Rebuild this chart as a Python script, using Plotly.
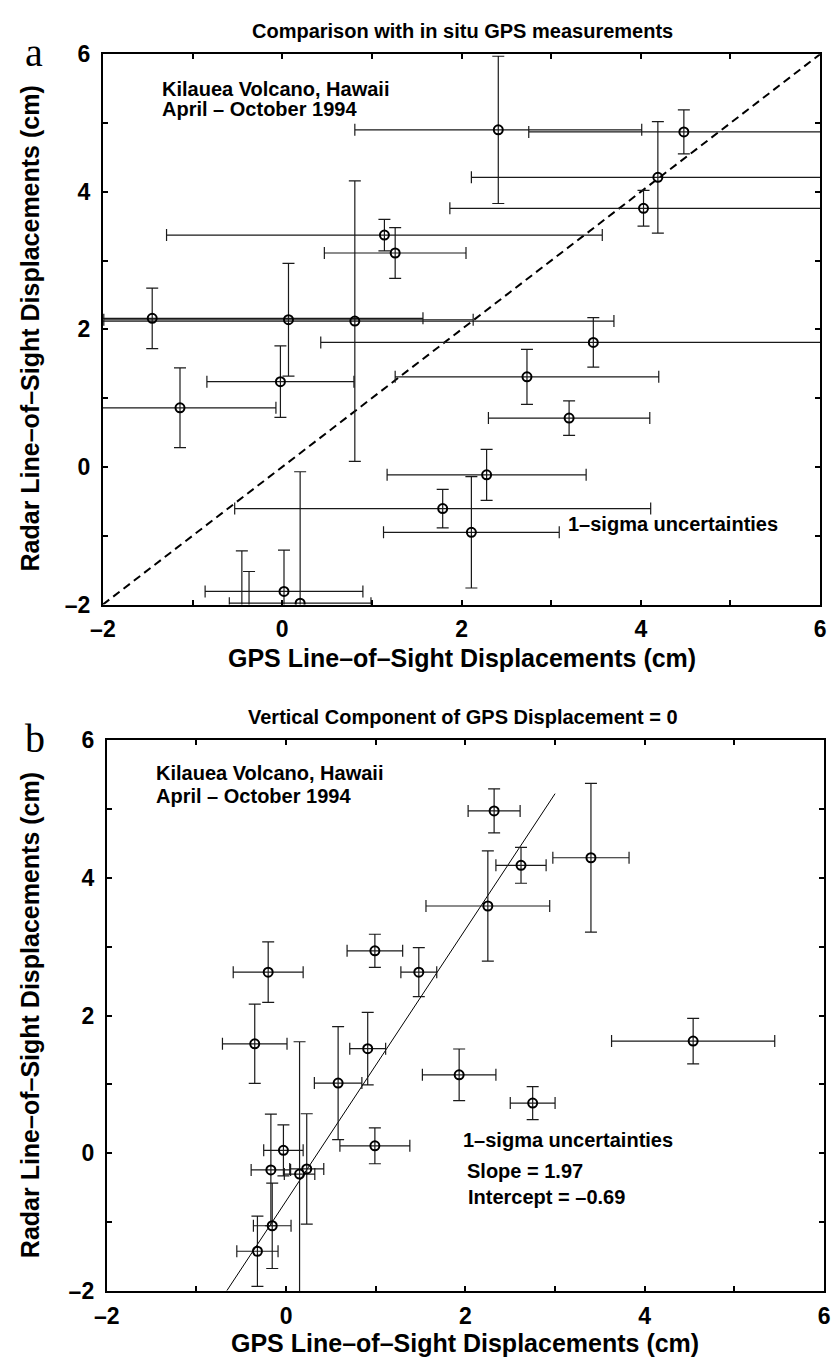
import plotly.graph_objects as go

# ---------------- Panel a data ----------------
a_gps = [2.41, 4.48, 4.19, 4.03, 1.14, 1.26, -1.45, 0.07, 0.81, -0.02, -1.14,
         3.47, 2.73, 3.20, 2.28, 1.79, 2.11, 0.02, 0.20, -0.45, -0.37]
a_radar = [4.90, 4.87, 4.21, 3.76, 3.37, 3.11, 2.16, 2.14, 2.12, 1.24, 0.86,
           1.81, 1.31, 0.71, -0.115, -0.605, -0.95, -1.81, -1.98, -2.60, -2.45]
a_gps_err = [1.60, 1.73, 2.08, 2.16, 2.43, 0.79, 3.02, 2.06, 2.89, 0.82, 1.07,
             3.04, 1.47, 0.90, 1.11, 2.32, 0.98, 0.88, 0.79, 0.50, 0.40]
a_radar_err = [1.07, 0.32, 0.81, 0.26, 0.23, 0.37, 0.44, 0.82, 2.04, 0.52, 0.58,
               0.36, 0.40, 0.25, 0.37, 0.28, 0.81, 0.60, 1.91, 1.38, 0.93]
one_to_one = [-2, 6]

# ---------------- Panel b data ----------------
b_gps = [-0.20, 0.99, 1.48, 2.32, 2.62, 3.40, 2.25, -0.35, 0.91, 0.58, 1.93,
         2.75, 4.54, 0.99, -0.03, -0.17, 0.15, -0.155, 0.23, -0.32]
b_radar = [2.63, 2.94, 2.63, 4.97, 4.18, 4.29, 3.59, 1.59, 1.52, 1.02, 1.14,
           0.73, 1.63, 0.11, 0.045, -0.24, -0.30, -1.05, -0.225, -1.42]
b_gps_err = [0.39, 0.31, 0.20, 0.29, 0.28, 0.425, 0.69, 0.36, 0.20, 0.265, 0.41,
             0.25, 0.91, 0.39, 0.22, 0.22, 0.17, 0.21, 0.19, 0.23]
b_radar_err = [0.44, 0.24, 0.355, 0.32, 0.26, 1.08, 0.80, 0.575, 0.525, 0.82, 0.375,
               0.24, 0.33, 0.26, 0.37, 0.81, 1.92, 0.62, 0.80, 0.51]
fit_slope = 1.97
fit_intercept = -0.69
fit_x = [-0.66, 3.0]
fit_y = [fit_slope * v + fit_intercept for v in fit_x]

tick_vals = [-2, -1, 0, 1, 2, 3, 4, 5, 6]
tick_text = ["\u20132", "", "0", "", "2", "", "4", "", "6"]

NARROW = "Liberation Sans Narrow, Arial Narrow, Liberation Sans, Arial, sans-serif"
SANS = "Liberation Sans, Arial, Helvetica, sans-serif"
SERIF = "Liberation Serif, Times New Roman, serif"

fig = go.Figure()

err_style = dict(type="data", symmetric=True, color="#1a1a1a", thickness=1.2, width=6)
marker_style = dict(symbol="circle-open", size=9, color="black", line=dict(width=2, color="black"))

# panel a
fig.add_trace(go.Scatter(x=one_to_one, y=one_to_one, mode="lines",
                         line=dict(color="black", width=2, dash="8px,5px"),
                         xaxis="x", yaxis="y", showlegend=False, hoverinfo="skip"))
fig.add_trace(go.Scatter(x=a_gps, y=a_radar, mode="markers", marker=marker_style,
                         error_x=dict(array=a_gps_err, **err_style),
                         error_y=dict(array=a_radar_err, **err_style),
                         xaxis="x", yaxis="y", showlegend=False))
# panel b
fig.add_trace(go.Scatter(x=fit_x, y=fit_y, mode="lines",
                         line=dict(color="black", width=1),
                         xaxis="x2", yaxis="y2", showlegend=False, hoverinfo="skip"))
fig.add_trace(go.Scatter(x=b_gps, y=b_radar, mode="markers", marker=marker_style,
                         error_x=dict(array=b_gps_err, **err_style),
                         error_y=dict(array=b_radar_err, **err_style),
                         xaxis="x2", yaxis="y2", showlegend=False))

W, H = 832, 1367

def axis_common():
    return dict(range=[-2, 6], tickmode="array", tickvals=tick_vals, ticktext=tick_text,
                ticks="inside", ticklen=5, tickwidth=1.5, tickcolor="black",
                showline=True, linewidth=2, linecolor="black", mirror="ticks",
                showgrid=False, zeroline=False, ticklabeloverflow="allow",
                tickfont=dict(family=NARROW, size=23, color="black", weight="bold"))

xa = axis_common(); xa.update(domain=[92 / W, 826 / W], anchor="y", ticklabelstandoff=3)
ya = axis_common(); ya.update(domain=[1 - 603 / H, 1 - 42 / H], anchor="x", ticklabelstandoff=6)
xb = axis_common(); xb.update(domain=[96 / W, 830 / W], anchor="y2", ticklabelstandoff=3)
yb = axis_common(); yb.update(domain=[1 - 1303 / H, 1 - 741 / H], anchor="x2", ticklabelstandoff=6)

annotations = []

def ann(text, x, y, xref="paper", yref="paper", font=None, xanchor="center", yanchor="middle", angle=0):
    annotations.append(dict(text=text, x=x, y=y, xref=xref, yref=yref, showarrow=False,
                            xanchor=xanchor, yanchor=yanchor, textangle=angle, font=font))

title_font = dict(family=NARROW, size=20, color="black", weight="bold")
axis_font = dict(family=NARROW, size=25, color="black", weight="bold")
inner_font = dict(family=SANS, size=20, color="black", weight="bold")
letter_font = dict(family=SERIF, size=40, color="black")

# panel a texts
ann("Comparison with in situ GPS measurements", 460 / W, 1 - 18 / H, font=title_font)
ann("a", 10 / W, 1 - 40 / H, font=letter_font, xanchor="left")
ann("GPS Line\u2013of\u2013Sight Displacements (cm)", 459 / W, 1 - 657 / H, font=axis_font)
ann("Radar Line\u2013of\u2013Sight Displacements (cm)", 17 / W, 1 - 322 / H, font=axis_font, angle=-90)
ann("Kilauea Volcano, Hawaii", -1.36, 5.49, "x", "y", font=inner_font, xanchor="left")
ann("April \u2013 October 1994", -1.36, 5.20, "x", "y", font=inner_font, xanchor="left")
ann("1\u2013sigma uncertainties", 3.17, -0.83, "x", "y", font=inner_font, xanchor="left")

# panel b texts
ann("Vertical Component of GPS Displacement = 0", 461 / W, 1 - 718 / H, font=title_font)
ann("b", 10 / W, 1 - 740 / H, font=letter_font, xanchor="left")
ann("GPS Line\u2013of\u2013Sight Displacements (cm)", 463 / W, 1 - 1356 / H, font=axis_font)
ann("Radar Line\u2013of\u2013Sight Displacements (cm)", 17 / W, 1 - 1022 / H, font=axis_font, angle=-90)
ann("Kilauea Volcano, Hawaii", -1.47, 5.52, "x2", "y2", font=inner_font, xanchor="left")
ann("April \u2013 October 1994", -1.47, 5.19, "x2", "y2", font=inner_font, xanchor="left")
ann("1\u2013sigma uncertainties", 1.95, 0.19, "x2", "y2", font=inner_font, xanchor="left")
ann(f"Slope = {fit_slope:.2f}", 1.99, -0.25, "x2", "y2", font=inner_font, xanchor="left")
ann(f"Intercept = \u2013{abs(fit_intercept):.2f}", 2.01, -0.64, "x2", "y2", font=inner_font, xanchor="left")

fig.update_layout(width=W, height=H, margin=dict(l=0, r=0, t=0, b=0),
                  paper_bgcolor="white", plot_bgcolor="white",
                  xaxis=xa, yaxis=ya, xaxis2=xb, yaxis2=yb,
                  annotations=annotations, showlegend=False)

fig.write_html("out.html")
